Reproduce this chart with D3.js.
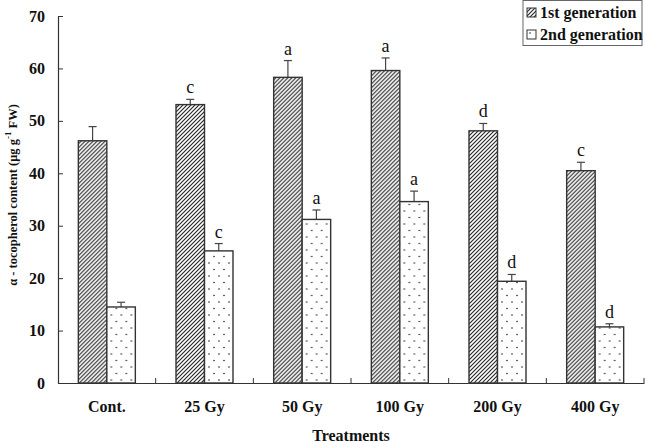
<!DOCTYPE html>
<html><head><meta charset="utf-8">
<script src="https://cdn.jsdelivr.net/npm/d3@7/dist/d3.min.js"></script>
<style>body{margin:0;background:#fff}svg{display:block}text{font-family:"Liberation Serif","Times New Roman",serif}</style>
</head><body><div id="chart"></div>
<script>
const categories = ["Cont.", "25 Gy", "50 Gy", "100 Gy", "200 Gy", "400 Gy"];
const seriesNames = ["1st generation", "2nd generation"];
const gen1 = [46.2, 53.1, 58.3, 59.6, 48.1, 40.5];
const gen1Err = [2.7, 1.0, 3.2, 2.4, 1.4, 1.6];
const gen2 = [14.5, 25.2, 31.2, 34.6, 19.4, 10.7];
const gen2Err = [0.9, 1.4, 1.8, 2.0, 1.3, 0.6];
const gen1Letters = ["", "c", "a", "a", "d", "c"];
const gen2Letters = ["", "c", "a", "a", "d", "d"];
const yTicks = [0, 10, 20, 30, 40, 50, 60, 70];

const W = 645, H = 443;
const svg = d3.select("#chart").append("svg").attr("width", W).attr("height", H);
const defs = svg.append("defs");
const hatch = defs.append("pattern").attr("id", "hatch").attr("patternUnits", "userSpaceOnUse")
  .attr("width", 4).attr("height", 4);
hatch.append("rect").attr("width", 4).attr("height", 4).attr("fill", "#fff");
hatch.append("path").attr("d", "M-1,1 l2,-2 M0,4 l4,-4 M3,5 l2,-2")
  .attr("stroke", "#222").attr("stroke-width", 1.1);
const dots = defs.append("pattern").attr("id", "dots").attr("patternUnits", "userSpaceOnUse")
  .attr("width", 10).attr("height", 13);
dots.append("rect").attr("width", 10).attr("height", 13).attr("fill", "#fff");
dots.append("circle").attr("cx", 3).attr("cy", 3).attr("r", 0.8).attr("fill", "#222");
dots.append("circle").attr("cx", 8).attr("cy", 9.5).attr("r", 0.8).attr("fill", "#222");

const m = {left: 58, right: 644, top: 16, bottom: 383};
const x = d3.scaleBand().domain(categories).range([m.left, m.right]).paddingInner(0).paddingOuter(0);
const x2 = d3.scaleBand().domain(seriesNames).range([0, 57]);
const y = d3.scaleLinear().domain([0, 70]).range([m.bottom, m.top]);

const data = categories.map((c, i) => ({c, vals: [
  {s: seriesNames[0], v: gen1[i], e: gen1Err[i], l: gen1Letters[i], fill: "url(#hatch)"},
  {s: seriesNames[1], v: gen2[i], e: gen2Err[i], l: gen2Letters[i], fill: "url(#dots)"}]}));

const g = svg.selectAll("g.grp").data(data).join("g").attr("class", "grp")
  .attr("transform", d => `translate(${x(d.c) + x.bandwidth()/2 - 28.5},0)`);
const b = g.selectAll("g.bar").data(d => d.vals).join("g").attr("class", "bar");
// error bars
b.append("line").attr("x1", d => x2(d.s) + x2.bandwidth()/2).attr("x2", d => x2(d.s) + x2.bandwidth()/2)
  .attr("y1", d => y(d.v)).attr("y2", d => y(d.v + d.e)).attr("stroke", "#444").attr("stroke-width", 1.2);
b.append("line").attr("x1", d => x2(d.s) + x2.bandwidth()/2 - 4).attr("x2", d => x2(d.s) + x2.bandwidth()/2 + 4)
  .attr("y1", d => y(d.v + d.e)).attr("y2", d => y(d.v + d.e)).attr("stroke", "#444").attr("stroke-width", 1.2);
b.append("rect").attr("x", d => x2(d.s)).attr("width", x2.bandwidth())
  .attr("y", d => y(d.v)).attr("height", d => y(0) - y(d.v))
  .attr("fill", d => d.fill).attr("stroke", "#333").attr("stroke-width", 1.4);
b.append("text").attr("x", d => x2(d.s) + x2.bandwidth()/2).attr("y", d => y(d.v + d.e) - 6)
  .attr("text-anchor", "middle").attr("font-size", 18).attr("fill", "#111").text(d => d.l);

// axes
const ax = svg.append("g").attr("transform", `translate(0,${m.bottom})`)
  .call(d3.axisBottom(x).tickSize(0).tickPadding(18));
ax.select(".domain").attr("stroke", "#333").attr("stroke-width", 1.2);
ax.selectAll("text").attr("font-size", 16).attr("font-weight", "bold").attr("fill", "#111");
// inward ticks at group boundaries
svg.append("g").selectAll("line").data(categories).join("line")
  .attr("x1", d => x(d) + x.bandwidth()).attr("x2", d => x(d) + x.bandwidth())
  .attr("y1", m.bottom).attr("y2", m.bottom - 5).attr("stroke", "#333").attr("stroke-width", 1);

const ay = svg.append("g").attr("transform", `translate(${m.left},0)`)
  .call(d3.axisLeft(y).tickValues(yTicks).tickSize(-5).tickPadding(13).tickSizeOuter(0));
ay.select(".domain").attr("stroke", "#333").attr("stroke-width", 1.2);
ay.selectAll(".tick line").attr("stroke", "#333");
ay.selectAll("text").attr("font-size", 16).attr("font-weight", "bold").attr("fill", "#111");

// axis titles
svg.append("text").attr("x", (m.left + m.right)/2).attr("y", 441).attr("text-anchor", "middle")
  .attr("font-size", 16).attr("font-weight", "bold").attr("fill", "#111").text("Treatments");
const yt = svg.append("text").attr("transform", "translate(17,195) rotate(-90)").attr("text-anchor", "middle")
  .attr("font-size", 12.5).attr("font-weight", "bold").attr("fill", "#111");
yt.append("tspan").text("α - tocopherol content (μg g");
yt.append("tspan").attr("dy", -6).attr("font-size", 9).text("-1");
yt.append("tspan").attr("dy", 6).text(" FW)");

// legend
const lg = svg.append("g");
lg.append("rect").attr("x", 523).attr("y", 0.5).attr("width", 119).attr("height", 45)
  .attr("fill", "#fff").attr("stroke", "#666").attr("stroke-width", 1);
const li = lg.selectAll("g").data([{s: seriesNames[0], f: "url(#hatch)"}, {s: seriesNames[1], f: "url(#dots)"}])
  .join("g").attr("transform", (d, i) => `translate(527,${8 + i * 22})`);
li.append("rect").attr("width", 9).attr("height", 9).attr("fill", d => d.f).attr("stroke", "#333").attr("stroke-width", 1);
li.append("text").attr("x", 13).attr("y", 10).attr("font-size", 16).attr("font-weight", "bold").attr("fill", "#111").text(d => d.s);
</script></body></html>
